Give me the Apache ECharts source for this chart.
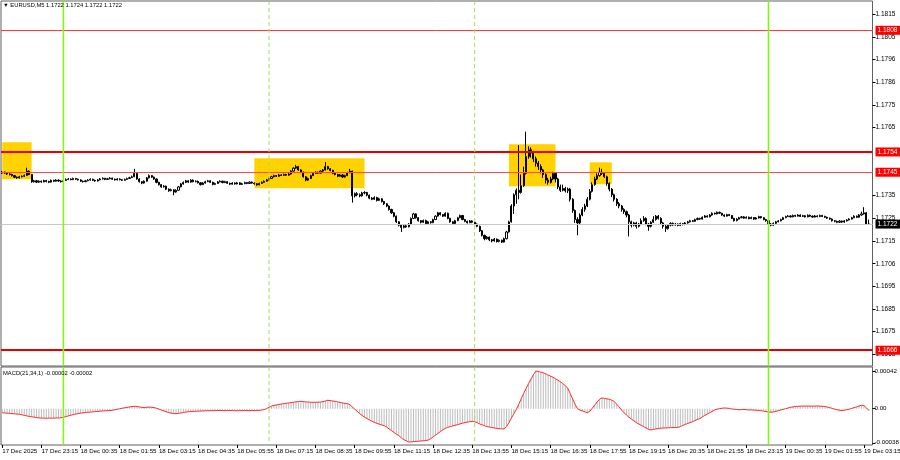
<!DOCTYPE html>
<html><head><meta charset="utf-8">
<script src="https://cdn.jsdelivr.net/npm/echarts@6/dist/echarts.min.js"></script>
<style>html,body{margin:0;padding:0;background:#fff}#c{width:900px;height:460px}</style>
</head><body><div id="c"></div>
<script>
// ---------- data ----------
const symbolName = 'EURUSD,M5';
const firstBarUTC = Date.UTC(2025, 11, 17, 21, 55);   // 17 Dec 2025 21:55
const barMinutes = 5;
const emptySlots = 1;
const firstOpen = 1.17446;

const closes = [
1.17450,1.17446,1.17442,1.17440,1.17435,1.17428,1.17425,1.17430,1.17432,1.17436,
1.17455,1.17440,1.17408,1.17412,1.17406,1.17410,1.17407,1.17413,1.17409,1.17406,
1.17414,1.17410,1.17415,1.17411,1.17408,1.17413,1.17418,1.17420,1.17417,1.17422,
1.17419,1.17416,1.17410,1.17408,1.17412,1.17415,1.17419,1.17414,1.17411,1.17416,
1.17420,1.17423,1.17418,1.17421,1.17424,1.17419,1.17416,1.17420,1.17417,1.17414,
1.17418,1.17422,1.17426,1.17430,1.17445,1.17420,1.17408,1.17402,1.17410,1.17425,
1.17435,1.17428,1.17420,1.17405,1.17395,1.17385,1.17388,1.17375,1.17368,1.17372,
1.17362,1.17370,1.17385,1.17398,1.17405,1.17412,1.17406,1.17415,1.17408,1.17410,
1.17403,1.17395,1.17402,1.17408,1.17412,1.17405,1.17396,1.17400,1.17407,1.17410,
1.17404,1.17408,1.17401,1.17397,1.17402,1.17398,1.17403,1.17396,1.17399,1.17404,
1.17400,1.17406,1.17402,1.17399,1.17394,1.17400,1.17405,1.17410,1.17416,1.17422,
1.17430,1.17435,1.17432,1.17438,1.17436,1.17440,1.17437,1.17442,1.17455,1.17468,
1.17475,1.17460,1.17450,1.17430,1.17415,1.17422,1.17435,1.17445,1.17450,1.17446,
1.17455,1.17460,1.17475,1.17465,1.17458,1.17445,1.17440,1.17432,1.17438,1.17429,
1.17435,1.17448,1.17455,1.17345,1.17355,1.17350,1.17345,1.17358,1.17360,1.17348,
1.17335,1.17330,1.17338,1.17325,1.17332,1.17320,1.17310,1.17300,1.17285,1.17270,
1.17255,1.17230,1.17215,1.17205,1.17212,1.17208,1.17220,1.17245,1.17265,1.17248,
1.17235,1.17228,1.17236,1.17222,1.17230,1.17226,1.17240,1.17255,1.17270,1.17262,
1.17255,1.17268,1.17245,1.17230,1.17222,1.17235,1.17248,1.17258,1.17240,1.17232,
1.17226,1.17234,1.17228,1.17220,1.17210,1.17190,1.17170,1.17155,1.17162,1.17150,
1.17145,1.17153,1.17142,1.17148,1.17140,1.17155,1.17185,1.17230,1.17300,1.17350,
1.17370,1.17360,1.17390,1.17445,1.17520,1.17550,1.17535,1.17510,1.17490,1.17475,
1.17460,1.17440,1.17415,1.17405,1.17420,1.17445,1.17420,1.17385,1.17370,1.17378,
1.17368,1.17375,1.17330,1.17280,1.17240,1.17225,1.17260,1.17285,1.17300,1.17330,
1.17365,1.17395,1.17420,1.17435,1.17450,1.17445,1.17430,1.17400,1.17375,1.17350,
1.17330,1.17310,1.17300,1.17285,1.17275,1.17260,1.17230,1.17215,1.17225,1.17210,
1.17220,1.17235,1.17245,1.17220,1.17210,1.17228,1.17240,1.17255,1.17245,1.17225,
1.17210,1.17200,1.17215,1.17223,1.17216,1.17220,1.17214,1.17222,1.17218,1.17225,
1.17230,1.17235,1.17232,1.17240,1.17245,1.17242,1.17250,1.17256,1.17252,1.17260,
1.17268,1.17265,1.17272,1.17268,1.17260,1.17255,1.17262,1.17258,1.17245,1.17235,
1.17242,1.17248,1.17252,1.17246,1.17250,1.17244,1.17249,1.17242,1.17247,1.17253,
1.17248,1.17240,1.17235,1.17220,1.17215,1.17223,1.17230,1.17234,1.17240,1.17248,
1.17253,1.17256,1.17252,1.17258,1.17255,1.17260,1.17254,1.17257,1.17252,1.17259,
1.17255,1.17251,1.17256,1.17253,1.17258,1.17254,1.17250,1.17246,1.17242,1.17235,
1.17232,1.17228,1.17233,1.17229,1.17234,1.17238,1.17242,1.17248,1.17255,1.17250,
1.17260,1.17265,1.17270,1.17220,1.17220
];
const highs = [
1.17456,1.17453,1.17449,1.17446,1.17443,1.17438,1.17431,1.17434,1.17436,1.17440,
1.17470,1.17458,1.17442,1.17416,1.17415,1.17414,1.17413,1.17417,1.17416,1.17412,
1.17418,1.17417,1.17419,1.17418,1.17414,1.17417,1.17422,1.17424,1.17423,1.17426,
1.17425,1.17422,1.17419,1.17413,1.17416,1.17419,1.17423,1.17421,1.17417,1.17420,
1.17424,1.17427,1.17425,1.17425,1.17428,1.17426,1.17422,1.17424,1.17423,1.17420,
1.17422,1.17426,1.17430,1.17435,1.17465,1.17448,1.17423,1.17411,1.17414,1.17429,
1.17440,1.17438,1.17431,1.17423,1.17408,1.17398,1.17393,1.17391,1.17378,1.17377,
1.17375,1.17374,1.17389,1.17402,1.17409,1.17416,1.17415,1.17419,1.17418,1.17414,
1.17413,1.17406,1.17406,1.17412,1.17416,1.17415,1.17408,1.17404,1.17411,1.17414,
1.17413,1.17412,1.17411,1.17404,1.17406,1.17405,1.17407,1.17406,1.17403,1.17408,
1.17407,1.17410,1.17409,1.17405,1.17402,1.17404,1.17409,1.17414,1.17420,1.17426,
1.17434,1.17439,1.17438,1.17442,1.17441,1.17444,1.17443,1.17446,1.17459,1.17472,
1.17483,1.17478,1.17463,1.17453,1.17433,1.17426,1.17439,1.17449,1.17454,1.17453,
1.17459,1.17464,1.17495,1.17478,1.17468,1.17461,1.17448,1.17443,1.17442,1.17441,
1.17439,1.17452,1.17465,1.17457,1.17360,1.17362,1.17356,1.17363,1.17366,1.17363,
1.17351,1.17340,1.17343,1.17341,1.17337,1.17335,1.17323,1.17313,1.17303,1.17288,
1.17273,1.17258,1.17233,1.17218,1.17217,1.17216,1.17224,1.17249,1.17270,1.17268,
1.17251,1.17238,1.17240,1.17239,1.17234,1.17233,1.17244,1.17259,1.17274,1.17273,
1.17265,1.17272,1.17271,1.17248,1.17233,1.17239,1.17252,1.17262,1.17261,1.17243,
1.17235,1.17238,1.17237,1.17231,1.17223,1.17213,1.17193,1.17173,1.17167,1.17165,
1.17154,1.17158,1.17156,1.17152,1.17151,1.17160,1.17190,1.17235,1.17308,1.17356,
1.17378,1.17570,1.17440,1.17475,1.17630,1.17565,1.17560,1.17545,1.17520,1.17500,
1.17485,1.17465,1.17445,1.17425,1.17430,1.17452,1.17448,1.17425,1.17395,1.17395,
1.17385,1.17382,1.17380,1.17335,1.17285,1.17250,1.17268,1.17295,1.17310,1.17340,
1.17375,1.17405,1.17430,1.17445,1.17470,1.17465,1.17450,1.17435,1.17405,1.17380,
1.17355,1.17335,1.17318,1.17305,1.17290,1.17280,1.17265,1.17235,1.17230,1.17230,
1.17225,1.17245,1.17255,1.17250,1.17225,1.17233,1.17255,1.17260,1.17260,1.17250,
1.17230,1.17215,1.17220,1.17228,1.17227,1.17225,1.17223,1.17226,1.17225,1.17229,
1.17234,1.17239,1.17238,1.17244,1.17249,1.17248,1.17254,1.17260,1.17259,1.17264,
1.17272,1.17271,1.17276,1.17275,1.17270,1.17263,1.17266,1.17265,1.17260,1.17248,
1.17246,1.17252,1.17256,1.17255,1.17254,1.17253,1.17253,1.17251,1.17251,1.17257,
1.17256,1.17251,1.17243,1.17238,1.17224,1.17227,1.17234,1.17238,1.17244,1.17252,
1.17257,1.17260,1.17259,1.17262,1.17261,1.17264,1.17263,1.17261,1.17260,1.17263,
1.17262,1.17258,1.17260,1.17259,1.17262,1.17261,1.17257,1.17253,1.17249,1.17245,
1.17238,1.17235,1.17237,1.17236,1.17238,1.17242,1.17246,1.17252,1.17259,1.17258,
1.17264,1.17275,1.17295,1.17273,1.17240
];
const lows = [
1.17442,1.17443,1.17438,1.17436,1.17431,1.17424,1.17421,1.17422,1.17427,1.17429,
1.17433,1.17437,1.17403,1.17404,1.17402,1.17403,1.17403,1.17405,1.17405,1.17402,
1.17404,1.17407,1.17408,1.17408,1.17404,1.17406,1.17411,1.17415,1.17414,1.17415,
1.17416,1.17413,1.17407,1.17404,1.17406,1.17410,1.17413,1.17411,1.17408,1.17409,
1.17414,1.17418,1.17415,1.17416,1.17419,1.17416,1.17413,1.17414,1.17414,1.17411,
1.17412,1.17416,1.17420,1.17424,1.17428,1.17417,1.17404,1.17397,1.17399,1.17408,
1.17422,1.17425,1.17416,1.17401,1.17391,1.17381,1.17382,1.17371,1.17363,1.17365,
1.17348,1.17359,1.17368,1.17383,1.17395,1.17402,1.17403,1.17404,1.17405,1.17405,
1.17400,1.17391,1.17393,1.17400,1.17406,1.17402,1.17392,1.17393,1.17398,1.17405,
1.17401,1.17402,1.17398,1.17393,1.17395,1.17395,1.17396,1.17393,1.17393,1.17397,
1.17397,1.17398,1.17399,1.17395,1.17390,1.17392,1.17398,1.17403,1.17408,1.17414,
1.17420,1.17427,1.17429,1.17430,1.17433,1.17434,1.17434,1.17435,1.17440,1.17453,
1.17465,1.17457,1.17446,1.17426,1.17410,1.17412,1.17420,1.17433,1.17442,1.17443,
1.17444,1.17452,1.17458,1.17461,1.17454,1.17441,1.17436,1.17428,1.17430,1.17425,
1.17426,1.17433,1.17445,1.17315,1.17338,1.17343,1.17339,1.17342,1.17352,1.17343,
1.17330,1.17326,1.17327,1.17320,1.17322,1.17316,1.17305,1.17295,1.17280,1.17265,
1.17250,1.17225,1.17210,1.17185,1.17201,1.17203,1.17205,1.17218,1.17242,1.17244,
1.17231,1.17223,1.17225,1.17218,1.17219,1.17222,1.17224,1.17238,1.17253,1.17258,
1.17251,1.17253,1.17241,1.17226,1.17217,1.17220,1.17233,1.17246,1.17237,1.17228,
1.17222,1.17224,1.17224,1.17216,1.17206,1.17185,1.17165,1.17148,1.17151,1.17144,
1.17139,1.17142,1.17138,1.17139,1.17136,1.17138,1.17152,1.17182,1.17226,1.17265,
1.17310,1.17330,1.17355,1.17385,1.17440,1.17510,1.17515,1.17495,1.17475,1.17460,
1.17445,1.17425,1.17400,1.17395,1.17400,1.17415,1.17405,1.17375,1.17362,1.17365,
1.17360,1.17358,1.17320,1.17270,1.17225,1.17170,1.17220,1.17255,1.17275,1.17295,
1.17325,1.17360,1.17390,1.17415,1.17430,1.17438,1.17425,1.17390,1.17365,1.17340,
1.17320,1.17300,1.17290,1.17275,1.17265,1.17250,1.17165,1.17205,1.17210,1.17200,
1.17205,1.17215,1.17230,1.17215,1.17190,1.17205,1.17225,1.17235,1.17240,1.17220,
1.17200,1.17185,1.17195,1.17210,1.17212,1.17213,1.17210,1.17211,1.17214,1.17215,
1.17222,1.17227,1.17229,1.17230,1.17237,1.17239,1.17240,1.17248,1.17249,1.17250,
1.17257,1.17262,1.17263,1.17265,1.17257,1.17252,1.17253,1.17255,1.17242,1.17231,
1.17232,1.17240,1.17246,1.17243,1.17244,1.17241,1.17242,1.17239,1.17240,1.17245,
1.17245,1.17237,1.17230,1.17216,1.17210,1.17212,1.17220,1.17228,1.17232,1.17238,
1.17246,1.17251,1.17249,1.17250,1.17252,1.17253,1.17251,1.17251,1.17249,1.17250,
1.17252,1.17248,1.17249,1.17250,1.17251,1.17251,1.17247,1.17243,1.17239,1.17231,
1.17228,1.17224,1.17225,1.17225,1.17226,1.17231,1.17236,1.17240,1.17246,1.17247,
1.17248,1.17257,1.17262,1.17216,1.17220
];
// MACD(21,34,1) main value per bar (signal period 1 = same line)
const macd = [
-4.5e-5,-4.8e-5,-5.0e-5,-5.2e-5,-5.5e-5,-5.7e-5,-6.0e-5,-6.2e-5,-6.8e-5,-7.4e-5,
-8.0e-5,-8.6e-5,-9.0e-5,-9.5e-5,-10.0e-5,-10.3e-5,-10.5e-5,-10.5e-5,-10.6e-5,-10.5e-5,
-10.6e-5,-10.5e-5,-10.4e-5,-10.3e-5,-10.2e-5,-9.5e-5,-8.8e-5,-8.0e-5,-7.3e-5,-6.6e-5,
-6.0e-5,-5.5e-5,-5.0e-5,-4.6e-5,-4.3e-5,-4.0e-5,-3.8e-5,-3.5e-5,-3.3e-5,-3.0e-5,
-2.8e-5,-2.6e-5,-2.4e-5,-2.2e-5,-2.0e-5,-1.8e-5,-1.2e-5,-0.6e-5,0.0e-5,0.5e-5,
1.0e-5,1.5e-5,2.0e-5,2.4e-5,2.6e-5,2.5e-5,2.0e-5,1.5e-5,1.2e-5,1.5e-5,
1.8e-5,1.6e-5,1.2e-5,0.5e-5,-0.5e-5,-1.5e-5,-2.5e-5,-3.5e-5,-4.3e-5,-5.0e-5,
-5.4e-5,-5.6e-5,-5.2e-5,-4.8e-5,-4.3e-5,-3.8e-5,-3.4e-5,-3.2e-5,-3.0e-5,-2.9e-5,
-2.7e-5,-2.6e-5,-2.5e-5,-2.4e-5,-2.3e-5,-2.2e-5,-2.2e-5,-2.1e-5,-2.0e-5,-2.0e-5,
-2.1e-5,-2.2e-5,-2.1e-5,-2.0e-5,-2.1e-5,-2.2e-5,-2.3e-5,-2.2e-5,-2.1e-5,-2.0e-5,
-2.1e-5,-2.2e-5,-2.0e-5,-2.1e-5,-2.0e-5,-1.9e-5,-1.6e-5,-1.0e-5,0.2e-5,1.5e-5,
2.8e-5,3.7e-5,4.2e-5,4.7e-5,5.2e-5,5.6e-5,6.0e-5,6.4e-5,6.8e-5,7.2e-5,
7.6e-5,8.0e-5,8.2e-5,7.9e-5,7.6e-5,7.4e-5,7.2e-5,7.1e-5,7.1e-5,7.2e-5,
7.4e-5,7.8e-5,8.6e-5,9.4e-5,9.0e-5,8.6e-5,8.2e-5,7.6e-5,7.0e-5,6.5e-5,
6.0e-5,5.6e-5,4.5e-5,2.0e-5,-0.5e-5,-3.0e-5,-5.5e-5,-7.5e-5,-9.5e-5,-11.0e-5,
-12.5e-5,-14.0e-5,-15.2e-5,-16.3e-5,-17.3e-5,-18.2e-5,-18.8e-5,-20.5e-5,-22.5e-5,-24.5e-5,
-26.5e-5,-28.5e-5,-30.0e-5,-32.5e-5,-34.5e-5,-35.7e-5,-37.0e-5,-37.0e-5,-36.8e-5,-36.5e-5,
-36.2e-5,-36.0e-5,-35.8e-5,-35.5e-5,-35.0e-5,-33.5e-5,-31.5e-5,-29.5e-5,-27.5e-5,-25.5e-5,
-23.5e-5,-22.0e-5,-20.8e-5,-20.0e-5,-19.2e-5,-18.5e-5,-17.8e-5,-17.0e-5,-16.2e-5,-15.5e-5,
-15.0e-5,-14.5e-5,-14.3e-5,-14.5e-5,-15.5e-5,-17.0e-5,-18.0e-5,-19.0e-5,-20.0e-5,-20.5e-5,
-21.0e-5,-21.5e-5,-22.0e-5,-22.3e-5,-22.5e-5,-22.5e-5,-20.0e-5,-15.5e-5,-10.5e-5,-5.5e-5,
-1.0e-5,5.0e-5,11.0e-5,17.0e-5,22.5e-5,28.0e-5,33.0e-5,38.0e-5,42.0e-5,41.5e-5,
40.8e-5,40.0e-5,39.0e-5,37.5e-5,36.3e-5,35.0e-5,33.5e-5,31.8e-5,30.0e-5,28.0e-5,
25.5e-5,23.0e-5,17.0e-5,11.0e-5,5.0e-5,0.0e-5,-1.5e-5,-2.5e-5,-3.5e-5,-4.5e-5,
-3.0e-5,0.5e-5,4.0e-5,7.5e-5,10.5e-5,12.0e-5,11.5e-5,11.0e-5,10.5e-5,9.5e-5,
8.0e-5,5.0e-5,2.0e-5,-1.5e-5,-4.5e-5,-7.0e-5,-9.5e-5,-11.5e-5,-13.5e-5,-15.5e-5,
-17.0e-5,-18.5e-5,-20.0e-5,-21.5e-5,-23.0e-5,-23.7e-5,-23.2e-5,-22.5e-5,-22.0e-5,-21.8e-5,
-21.5e-5,-21.5e-5,-21.3e-5,-21.2e-5,-21.0e-5,-21.0e-5,-20.8e-5,-20.0e-5,-18.8e-5,-17.5e-5,
-16.5e-5,-15.5e-5,-14.5e-5,-13.3e-5,-12.0e-5,-11.0e-5,-9.0e-5,-7.5e-5,-6.0e-5,-4.5e-5,
-3.0e-5,-1.5e-5,-0.5e-5,0.0e-5,0.5e-5,0.8e-5,0.6e-5,0.3e-5,-0.3e-5,-0.6e-5,
-0.9e-5,-1.2e-5,-1.0e-5,-0.8e-5,-1.1e-5,-1.4e-5,-1.3e-5,-1.5e-5,-1.8e-5,-2.0e-5,
-2.3e-5,-2.7e-5,-3.2e-5,-3.7e-5,-4.0e-5,-3.6e-5,-3.0e-5,-2.3e-5,-1.5e-5,-0.8e-5,
0.0e-5,0.8e-5,1.5e-5,2.1e-5,2.5e-5,2.7e-5,2.8e-5,2.9e-5,2.9e-5,3.0e-5,
2.9e-5,2.8e-5,2.9e-5,3.0e-5,2.9e-5,2.7e-5,2.4e-5,1.9e-5,1.2e-5,0.4e-5,
-0.5e-5,-1.2e-5,-1.8e-5,-2.0e-5,-1.8e-5,-1.2e-5,-0.5e-5,0.3e-5,1.2e-5,2.0e-5,
3.0e-5,3.8e-5,3.5e-5,1.0e-5,-2.0e-5
];

// price axis tick positions and their printed labels
const priceTickValues = [1.18151,1.18050,1.17950,1.17849,1.17748,1.17648,1.17346,1.17246,1.17145,1.17044,1.16944,1.16843,1.16743,1.16642];
const priceTickLabels = ['1.1815','1.1805','1.1796','1.1786','1.1775','1.1765','1.1735','1.1725','1.1715','1.1706','1.1695','1.1685','1.1675','1.1665'];
const macdTickValues = [0.00042, 0, -0.00038];
const macdTickLabels = ['0.00042', '0.00', '-0.00038'];
const timeTickLabels = ['17 Dec 2025','17 Dec 23:15','18 Dec 00:35','18 Dec 01:55','18 Dec 03:15','18 Dec 04:35',
  '18 Dec 05:55','18 Dec 07:15','18 Dec 08:35','18 Dec 09:55','18 Dec 11:15','18 Dec 12:35','18 Dec 13:55',
  '18 Dec 15:15','18 Dec 16:35','18 Dec 17:55','18 Dec 19:15','18 Dec 20:35','18 Dec 21:55','18 Dec 23:15',
  '19 Dec 00:35','19 Dec 01:55','19 Dec 03:15'];
const timeTickEvery = 16;

const levelPrices = [1.1808, 1.1754, 1.1745, 1.1666];
const bidPrice = 1.1722;
const dayStartBars = [25, 313];      // 18 Dec 00:00, 19 Dec 00:00
const sessionBars = [109, 193];      // 18 Dec 07:00, 18 Dec 14:00
// yellow zones: [first bar, last bar] and [top price, bottom price]
const zoneBars = [[0, 12], [103, 148], [207, 226], [240, 249]];
const zonePrices = [[1.17583, 1.17419], [1.17512, 1.17379], [1.17574, 1.17388], [1.17494, 1.17397]];

// ---------- build ----------
const MON = ['Jan','Feb','Mar','Apr','May','Jun','Jul','Aug','Sep','Oct','Nov','Dec'];
const pad = n => String(n).padStart(2, '0');
const categories = [];
for (let i = 0; i < closes.length + emptySlots; i++) {
  const d = new Date(firstBarUTC + i * barMinutes * 60000);
  categories.push(d.getUTCDate() + ' ' + MON[d.getUTCMonth()] + ' ' + pad(d.getUTCHours()) + ':' + pad(d.getUTCMinutes()));
}
const opens = closes.map((c, i) => i === 0 ? firstOpen : closes[i - 1]);
const candles = closes.map((c, i) => [opens[i], c, lows[i], highs[i]]);
const last = closes.length - 1;

const FONT = '"Liberation Sans", Arial, sans-serif';
const levelStyles = [
  { color: '#ff3b3b', width: 1 },
  { color: '#e60000', width: 2 },
  { color: '#ff4a4a', width: 1 },
  { color: '#e60000', width: 2 }
];
const boxLabel = (bg) => ({
  show: true, position: 'end', distance: 3, color: '#fff', backgroundColor: bg,
  fontSize: 6.5, fontFamily: FONT, padding: [1, 3, 1, 2], formatter: p => p.value.toFixed(4)
});

// vertical separators drawn through the category axis of each panel
function separatorSeries(xi, yi, bars, yRef, stroke) {
  return {
    type: 'custom', xAxisIndex: xi, yAxisIndex: yi, silent: true, z: 6, clip: false,
    data: bars.map(b => [b, yRef]),
    encode: { x: 0, y: 1 },
    renderItem: (params, api) => {
      const x = api.coord([api.value(0), api.value(1)])[0];
      const cs = params.coordSys;
      return { type: 'line', shape: { x1: x, y1: cs.y, x2: x, y2: cs.y + cs.height }, style: stroke };
    }
  };
}
const dayStroke = { stroke: '#7cfc00', lineWidth: 1.5 };
const sessionStroke = { stroke: '#a8dc60', lineWidth: 1, lineDash: [4, 3] };

const chart = echarts.init(document.getElementById('c'), null, { renderer: 'canvas' });
chart.setOption({
  animation: false,
  backgroundColor: '#ffffff',
  title: [
    { text: '\u25BC ' + symbolName + ' ' + [opens[last], highs[last], lows[last], closes[last]].map(v => v.toFixed(4)).join(' '),
      left: 3, top: 2, padding: 0, textStyle: { fontSize: 5.8, fontWeight: 'normal', color: '#000', fontFamily: FONT } },
    { text: 'MACD(21,34,1) ' + macd[last].toFixed(5) + ' ' + macd[last].toFixed(5),
      left: 3, top: 370, padding: 0, textStyle: { fontSize: 5.8, fontWeight: 'normal', color: '#000', fontFamily: FONT } }
  ],
  grid: [
    { left: 1, top: 1, width: 871.5, height: 365, show: true, borderColor: '#606060', borderWidth: 1,
      containLabel: false, outerBoundsMode: 'none' },
    { left: 1, top: 367, width: 871.5, height: 78, show: true, borderColor: '#606060', borderWidth: 1,
      containLabel: false, outerBoundsMode: 'none' }
  ],
  xAxis: [
    { type: 'category', gridIndex: 0, data: categories, boundaryGap: true,
      axisLine: { show: false, onZero: false }, axisTick: { show: false }, axisLabel: { show: false }, splitLine: { show: false } },
    { type: 'category', gridIndex: 1, data: categories, boundaryGap: true, position: 'bottom',
      axisLine: { show: false, onZero: false },
      axisTick: { show: true, alignWithLabel: true, length: 3, interval: i => i % timeTickEvery === 0, lineStyle: { color: '#000' } },
      axisLabel: { show: true, interval: i => i % timeTickEvery === 0, align: 'left', margin: 3,
        fontSize: 6.2, fontFamily: FONT, color: '#000', hideOverlap: false,
        formatter: (v, i) => i % timeTickEvery === 0 ? (timeTickLabels[i / timeTickEvery] || '') : '' },
      splitLine: { show: false } }
  ],
  yAxis: [
    { type: 'value', gridIndex: 0, position: 'right', min: 1.16590, max: 1.18210, scale: true,
      axisLine: { show: false }, splitLine: { show: false },
      axisTick: { show: true, length: 3, customValues: priceTickValues, lineStyle: { color: '#000' } },
      axisLabel: { show: true, margin: 3, fontSize: 6.5, fontFamily: FONT, color: '#000', customValues: priceTickValues,
        formatter: v => { const k = priceTickValues.findIndex(t => Math.abs(t - v) < 1e-7); return k >= 0 ? priceTickLabels[k] : ''; } } },
    { type: 'value', gridIndex: 1, position: 'right', min: -0.000405, max: 0.000465,
      axisLine: { show: false }, splitLine: { show: false },
      axisTick: { show: true, length: 3, customValues: macdTickValues, lineStyle: { color: '#000' } },
      axisLabel: { show: true, margin: 2, fontSize: 6.2, fontFamily: FONT, color: '#000', customValues: macdTickValues,
        formatter: v => { const k = macdTickValues.findIndex(t => Math.abs(t - v) < 1e-9); return k >= 0 ? macdTickLabels[k] : ''; } } }
  ],
  series: [
    { type: 'candlestick', name: symbolName, xAxisIndex: 0, yAxisIndex: 0, data: candles,
      barWidth: 1.6,
      itemStyle: { color: '#ffffff', color0: '#000000', borderColor: '#000000', borderColor0: '#000000', borderWidth: 1 },
      markArea: { silent: true, itemStyle: { color: '#ffd200' }, label: { show: false },
        data: zoneBars.map((b, k) => [{ xAxis: b[0], yAxis: zonePrices[k][0] }, { xAxis: b[1], yAxis: zonePrices[k][1] }]) },
      markLine: { silent: true, symbol: 'none', precision: 5,
        data: [
          ...levelPrices.map((v, k) => ({ yAxis: v, lineStyle: { ...levelStyles[k], type: 'solid' }, label: boxLabel('#ff0000') })),
          { yAxis: bidPrice, lineStyle: { color: '#c8c8c8', width: 1, type: 'solid' }, label: boxLabel('#000000') }
        ] } },
    { type: 'bar', name: 'MACD', xAxisIndex: 1, yAxisIndex: 1, data: macd, barWidth: 1,
      itemStyle: { color: '#bcbcbc' } },
    { type: 'line', name: 'Signal', xAxisIndex: 1, yAxisIndex: 1, data: macd, showSymbol: false, symbol: 'none',
      lineStyle: { color: '#ff2a2a', width: 1 }, z: 4 },
    separatorSeries(0, 0, dayStartBars, bidPrice, dayStroke),
    separatorSeries(0, 0, sessionBars, bidPrice, sessionStroke),
    separatorSeries(1, 1, dayStartBars, 0, dayStroke),
    separatorSeries(1, 1, sessionBars, 0, sessionStroke)
  ]
});
</script>
</body></html>
